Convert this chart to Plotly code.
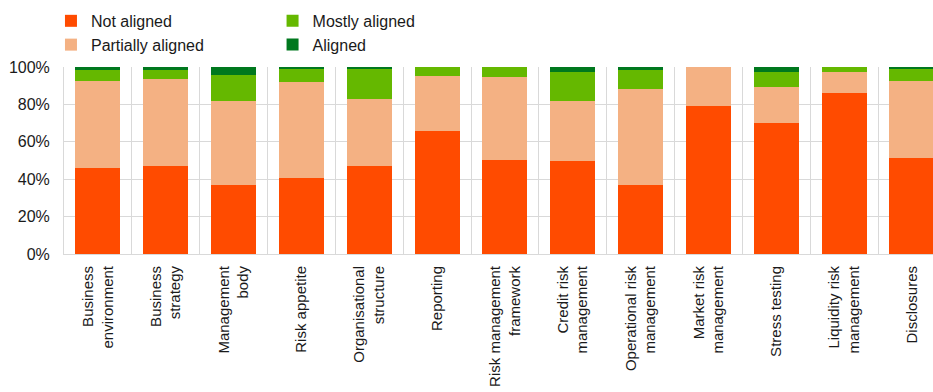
import plotly.graph_objects as go

categories = [
    "Business<br>environment", "Business<br>strategy", "Management<br>body",
    "Risk appetite", "Organisational<br>structure", "Reporting",
    "Risk management<br>framework", "Credit risk<br>management",
    "Operational risk<br>management", "Market risk<br>management",
    "Stress testing", "Liquidity risk<br>management", "Disclosures",
]
not_aligned = [46.1, 47.2, 37.0, 40.7, 47.2, 65.8, 50.5, 49.8, 37.0, 79.2, 70.1, 86.3, 51.4]
partially_aligned = [46.6, 46.4, 45.0, 51.3, 35.7, 29.6, 44.2, 32.2, 51.3, 20.8, 19.2, 11.0, 41.3]
mostly_aligned = [5.5, 4.6, 13.6, 6.9, 16.0, 4.6, 5.3, 15.3, 9.9, 0.0, 8.0, 2.7, 6.2]
aligned = [1.8, 1.8, 4.4, 1.1, 1.1, 0.0, 0.0, 2.7, 1.8, 0.0, 2.7, 0.0, 1.1]

series = [
    ("Not aligned", not_aligned, "#FF4B00", "legend"),
    ("Partially aligned", partially_aligned, "#F4B183", "legend"),
    ("Mostly aligned", mostly_aligned, "#65B800", "legend2"),
    ("Aligned", aligned, "#00781E", "legend2"),
]

fig = go.Figure()
for name, vals, color, leg in series:
    fig.add_trace(go.Bar(
        x=categories, y=vals, name=name, marker_color=color,
        marker_line_width=0, legend=leg,
    ))

font_family = "Liberation Sans, Arial, sans-serif"
fig.update_layout(
    width=933, height=392,
    margin=dict(l=64, r=0, t=67, b=138, autoexpand=False),
    barmode="stack", bargap=0.337,
    plot_bgcolor="white", paper_bgcolor="white",
    font=dict(family=font_family, size=15, color="#1a1a1a"),
    legend=dict(x=-0.015, y=0.99, xanchor="left", yanchor="top",
                yref="container", font=dict(size=16), orientation="v",
                traceorder="normal", bgcolor="rgba(0,0,0,0)"),
    legend2=dict(x=0.24, y=0.99, xanchor="left", yanchor="top",
                 yref="container", font=dict(size=16), orientation="v",
                 traceorder="normal", bgcolor="rgba(0,0,0,0)"),
)
fig.update_xaxes(
    range=[-0.5, 12.31], tickangle=-90, tickson="boundaries",
    showgrid=True, gridcolor="#d9d9d9", gridwidth=1,
    showline=True, linecolor="#d9d9d9", linewidth=1,
    ticks="", ticklabelstandoff=5, tickfont=dict(size=15),
)
fig.update_yaxes(
    range=[0, 100], dtick=20, ticksuffix="%",
    showgrid=True, gridcolor="#d9d9d9", gridwidth=1,
    showline=True, linecolor="#d9d9d9", linewidth=1,
    zeroline=False, ticks="", ticklabelstandoff=10, tickfont=dict(size=16),
)
fig.write_html("out.html")
